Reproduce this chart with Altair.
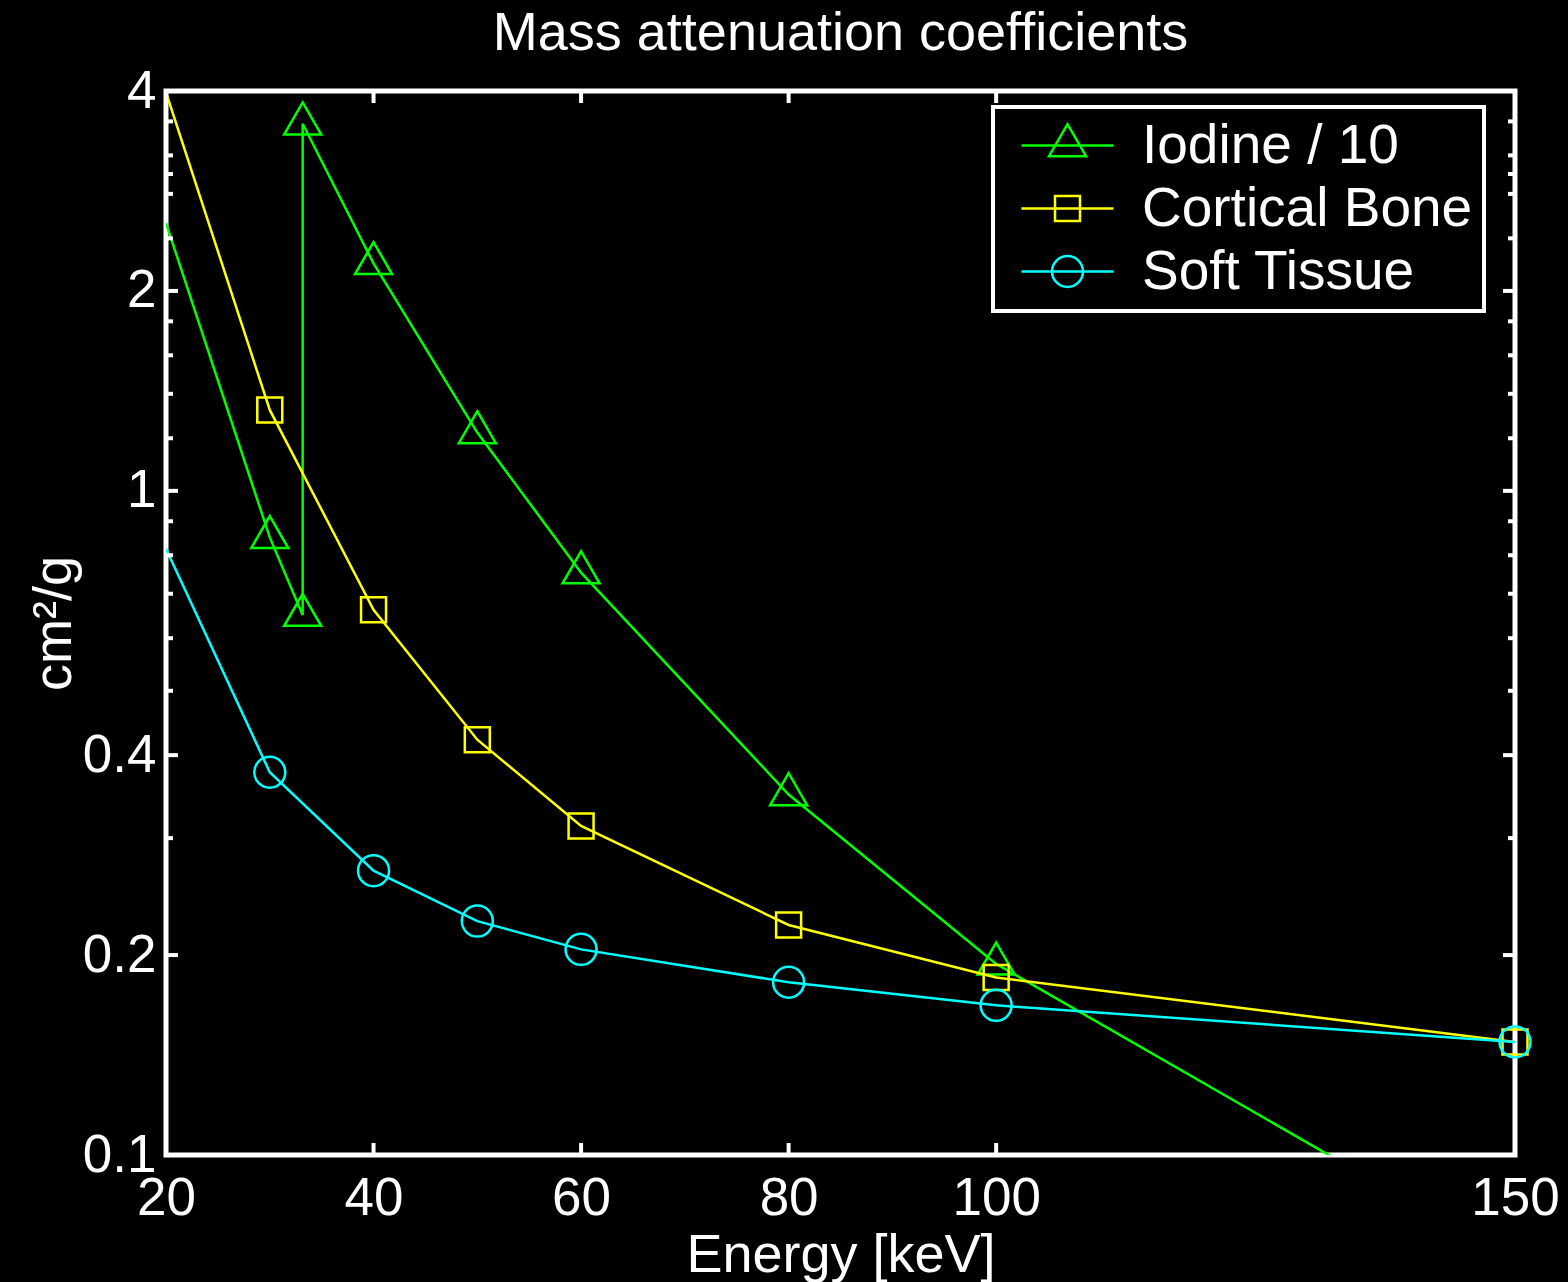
import altair as alt
import pandas as pd

FONT = "Liberation Sans"

# ---- data ----
series = ["Iodine / 10", "Cortical Bone", "Soft Tissue"]
colors = ["#00ff00", "#ffff00", "#00ffff"]

energy = [20, 30, 40, 50, 60, 80, 100, 150]
cortical_bone = [3.98, 1.324, 0.662, 0.422, 0.313, 0.222, 0.185, 0.148]
soft_tissue = [0.818, 0.377, 0.268, 0.225, 0.204, 0.182, 0.168, 0.148]

iodine_energy = [20, 30, 33.17, 33.17, 40, 50, 60, 80, 100, 150]
iodine_div10 = [2.53, 0.851, 0.650, 3.57, 2.20, 1.224, 0.753, 0.349, 0.194, 0.069]

x_ticks = [20, 40, 60, 80, 100, 150]
y_major = [0.1, 0.2, 0.4, 1, 2, 4]
y_minor = [0.3, 0.5, 0.6, 0.7, 0.8, 0.9, 1.2, 1.4, 1.6, 1.8, 2.4, 2.8, 3.0, 3.2, 3.6]

# ---- table ----
rows = []
for name, xs, ys in [(series[0], iodine_energy, iodine_div10),
                     (series[1], energy, cortical_bone),
                     (series[2], energy, soft_tissue)]:
    for i, (e, v) in enumerate(zip(xs, ys)):
        rows.append({"series": name, "energy": e, "value": v, "order": i})
df = pd.DataFrame(rows)

W, H = 1349, 1064
LW = 2.5

xscale = alt.Scale(domain=[20, 150], nice=False, zero=False)
yscale = alt.Scale(type="log", domain=[0.1, 4], nice=False)
cscale = alt.Scale(domain=series, range=colors)

x_axis = alt.Axis(values=x_ticks, format="d", title="Energy [keV]",
                  labelPadding=17, titleX=W / 2, titleY=116,
                  titleAlign="center", titleBaseline="alphabetic")
y_axis = alt.Axis(values=y_major, format="~g", title="cm²/g",
                  labelPadding=10, titleAngle=270, titleX=-96,
                  titleY=H / 2, titleAlign="center",
                  titleBaseline="alphabetic")

x_enc = alt.X("energy:Q", scale=xscale, axis=x_axis)
y_enc = alt.Y("value:Q", scale=yscale, axis=y_axis)

# marker shapes (unit = half of sqrt(size))
TRI = "M0,-1.376L1.194,0.688L-1.194,0.688Z"
SQ = "M-0.806,-0.806H0.806V0.806H-0.806Z"
CIRC_PATH = ("M1,0C1,0.552,0.552,1,0,1C-0.552,1,-1,0.552,-1,0"
             "C-1,-0.552,-0.552,-1,0,-1C0.552,-1,1,-0.552,1,0Z")
LINE = "M-2.97,0H2.97"

data_layers = []
for name, col, shp in zip(series, colors, [TRI, SQ, "circle"]):
    base = alt.Chart(df).transform_filter(alt.datum.series == name)
    data_layers.append(
        base.mark_line(clip=True, strokeWidth=LW, color=col).encode(
            x=x_enc, y=y_enc, order=alt.Order("order:Q"))
    )
    data_layers.append(
        base.transform_filter((alt.datum.energy > 20) & (alt.datum.value >= 0.1))
        .mark_point(shape=shp, size=961, filled=False, strokeWidth=LW,
                    opacity=1, color=col)
        .encode(x=x_enc, y=y_enc)
    )

legend = alt.Legend(
    orient="none", legendX=827, legendY=16, title=None,
    labelFontSize=55, labelColor="white", labelFont=FONT, labelLimit=0,
    symbolSize=961, symbolStrokeWidth=LW, symbolFillColor="transparent",
    symbolOffset=36, labelOffset=47, rowPadding=7, padding=11,
    strokeColor="white", fillColor="black",
)
legend_layer = (
    alt.Chart(df)
    .transform_filter("false")
    .mark_point(filled=False, opacity=1)
    .encode(
        color=alt.Color("series:N", scale=cscale, legend=legend),
        shape=alt.Shape("series:N",
                        scale=alt.Scale(domain=series,
                                        range=[LINE + TRI, LINE + SQ, LINE + CIRC_PATH]),
                        legend=legend),
    )
)

# inward ticks on all four sides
xt = pd.DataFrame({"t": x_ticks})
ytM = pd.DataFrame({"t": y_major})
ytm = pd.DataFrame({"t": y_minor})
tx = alt.X("t:Q", scale=xscale, axis=x_axis)
ty = alt.Y("t:Q", scale=yscale, axis=y_axis)
rule = dict(color="white", strokeWidth=4)
ticks = [
    alt.Chart(xt).mark_rule(**rule).encode(x=tx, y=alt.value(H), y2=alt.value(H - 12)),
    alt.Chart(xt).mark_rule(**rule).encode(x=tx, y=alt.value(0), y2=alt.value(12)),
    alt.Chart(ytM).mark_rule(**rule).encode(y=ty, x=alt.value(0), x2=alt.value(12)),
    alt.Chart(ytM).mark_rule(**rule).encode(y=ty, x=alt.value(W), x2=alt.value(W - 12)),
    alt.Chart(ytm).mark_rule(**rule).encode(y=ty, x=alt.value(0), x2=alt.value(7)),
    alt.Chart(ytm).mark_rule(**rule).encode(y=ty, x=alt.value(W), x2=alt.value(W - 7)),
]

chart = (
    alt.layer(*data_layers, *ticks, legend_layer)
    .properties(
        width=W, height=H,
        autosize=alt.AutoSizeParams(type="none"),
        padding={"left": 166, "top": 91, "right": 53, "bottom": 127},
        title=alt.TitleParams(
            text="Mass attenuation coefficients", fontSize=54, color="white",
            font=FONT, fontWeight="normal", anchor="middle", offset=-39,
            baseline="alphabetic"),
    )
    .configure(background="black", font=FONT)
    .configure_view(fill="black", stroke="white", strokeWidth=5)
    .configure_axis(labelColor="white", titleColor="white", labelFont=FONT,
                    titleFont=FONT, grid=False, domain=False, ticks=False,
                    tickSize=0, labelFontSize=53, titleFontSize=54,
                    titleFontWeight="normal", labelOverlap=False,
                    labelFlush=False)
    .configure_legend(strokeWidth=4)
)

chart.save("out.html", embed_options={"renderer": "svg", "actions": False})
